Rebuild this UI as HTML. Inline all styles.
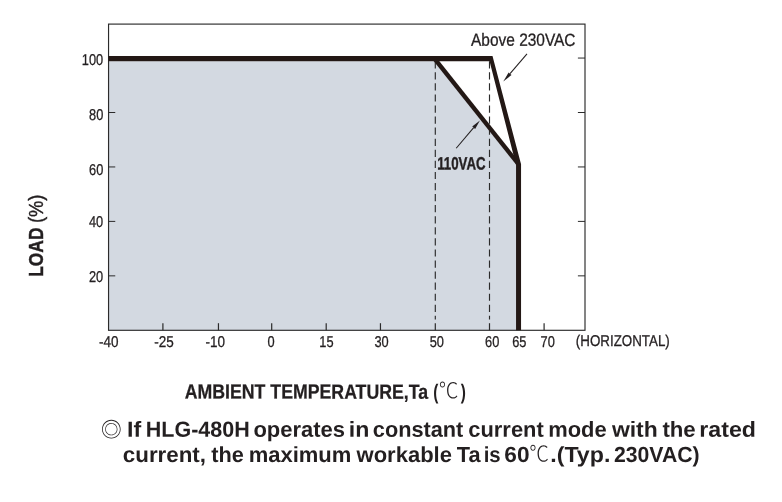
<!DOCTYPE html>
<html lang="en"><head><meta charset="utf-8"><title>Derating curve</title>
<style>html,body{margin:0;padding:0;background:#fff;}body{width:782px;height:502px;overflow:hidden;}svg{display:block;}text{font-family:"Liberation Sans","Noto Sans CJK SC",sans-serif;fill:#231f20;}.b{font-weight:bold;}.c{font-family:"Liberation Sans","Noto Sans CJK SC",sans-serif;font-weight:300;}</style>
</head><body>
<svg width="782" height="502" viewBox="0 0 782 502" role="img" aria-label="Output load versus ambient temperature derating curve">
<rect x="0" y="0" width="782" height="502" fill="#fff"/>
<polygon points="108.55,330.30 108.55,61.35 435.30,61.35 518.55,164.60 518.55,330.30" fill="#d3d9e1"/>
<rect x="108.55" y="24.10" width="476.45" height="306.20" fill="none" stroke="#2b2b2b" stroke-width="1.15"/>
<line x1="108.55" y1="275.85" x2="115.25" y2="275.85" stroke="#2b2b2b" stroke-width="1"/>
<line x1="108.55" y1="221.40" x2="115.25" y2="221.40" stroke="#2b2b2b" stroke-width="1"/>
<line x1="108.55" y1="166.95" x2="115.25" y2="166.95" stroke="#2b2b2b" stroke-width="1"/>
<line x1="108.55" y1="112.50" x2="115.25" y2="112.50" stroke="#2b2b2b" stroke-width="1"/>
<line x1="577.90" y1="275.85" x2="585.00" y2="275.85" stroke="#2b2b2b" stroke-width="1"/>
<line x1="577.90" y1="221.40" x2="585.00" y2="221.40" stroke="#2b2b2b" stroke-width="1"/>
<line x1="577.90" y1="166.95" x2="585.00" y2="166.95" stroke="#2b2b2b" stroke-width="1"/>
<line x1="577.90" y1="112.50" x2="585.00" y2="112.50" stroke="#2b2b2b" stroke-width="1"/>
<line x1="577.90" y1="58.05" x2="585.00" y2="58.05" stroke="#2b2b2b" stroke-width="1"/>
<line x1="162.90" y1="323.20" x2="162.90" y2="330.30" stroke="#2b2b2b" stroke-width="1.2"/>
<line x1="218.45" y1="323.20" x2="218.45" y2="330.30" stroke="#2b2b2b" stroke-width="1.2"/>
<line x1="271.70" y1="323.20" x2="271.70" y2="330.30" stroke="#2b2b2b" stroke-width="1.2"/>
<line x1="326.20" y1="323.20" x2="326.20" y2="330.30" stroke="#2b2b2b" stroke-width="1.2"/>
<line x1="380.45" y1="323.20" x2="380.45" y2="330.30" stroke="#2b2b2b" stroke-width="1.2"/>
<line x1="544.10" y1="323.20" x2="544.10" y2="330.30" stroke="#2b2b2b" stroke-width="1.2"/>
<line x1="435.30" y1="61.20" x2="435.30" y2="319.40" stroke="#2b2b2b" stroke-width="1.15" stroke-dasharray="7.2 3.87"/>
<line x1="435.30" y1="323.20" x2="435.30" y2="330.30" stroke="#2b2b2b" stroke-width="1.2"/>
<line x1="489.50" y1="61.20" x2="489.50" y2="319.40" stroke="#2b2b2b" stroke-width="1.15" stroke-dasharray="7.2 3.87"/>
<line x1="489.50" y1="323.20" x2="489.50" y2="330.30" stroke="#2b2b2b" stroke-width="1.2"/>
<line x1="434.50" y1="58.60" x2="518.75" y2="164.50" stroke="#231815" stroke-width="4.4"/>
<polygon points="108.55,56.00 492.50,56.00 521.05,164.30 521.05,330.30 516.05,330.30 516.05,165.00 489.58,61.35 108.55,61.35" fill="#231815"/>
<line x1="527.00" y1="53.80" x2="510.05" y2="73.69" stroke="#231f20" stroke-width="1.05"/>
<polygon points="503.30,81.60 508.60,72.45 511.49,74.92" fill="#231f20"/>
<line x1="456.20" y1="148.25" x2="473.68" y2="127.71" stroke="#231f20" stroke-width="1.05"/>
<polygon points="479.90,120.40 475.13,128.94 472.23,126.48" fill="#231f20"/>
<text transform="translate(81.83,64.95) rotate(0.05) scale(0.8150,1)" font-size="15.70" stroke="#231f20" stroke-width="0.30">100</text>
<text transform="translate(89.03,119.95) rotate(0.05) scale(0.8150,1)" font-size="15.70" stroke="#231f20" stroke-width="0.30">80</text>
<text transform="translate(89.06,174.95) rotate(0.05) scale(0.8150,1)" font-size="15.70" stroke="#231f20" stroke-width="0.30">60</text>
<text transform="translate(88.93,226.95) rotate(0.05) scale(0.8150,1)" font-size="15.70" stroke="#231f20" stroke-width="0.30">40</text>
<text transform="translate(88.99,281.95) rotate(0.05) scale(0.8150,1)" font-size="15.70" stroke="#231f20" stroke-width="0.30">20</text>
<text transform="translate(98.91,346.95) rotate(0.05) scale(0.8600,1)" font-size="15.70" stroke="#231f20" stroke-width="0.30">-40</text>
<text transform="translate(154.28,346.95) rotate(0.05) scale(0.8600,1)" font-size="15.70" stroke="#231f20" stroke-width="0.30">-25</text>
<text transform="translate(205.56,346.95) rotate(0.05) scale(0.8600,1)" font-size="15.70" stroke="#231f20" stroke-width="0.30">-10</text>
<text transform="translate(267.39,346.95) rotate(0.05) scale(0.8150,1)" font-size="15.70" stroke="#231f20" stroke-width="0.30">0</text>
<text transform="translate(319.31,346.95) rotate(0.05) scale(0.8150,1)" font-size="15.70" stroke="#231f20" stroke-width="0.30">15</text>
<text transform="translate(374.45,346.95) rotate(0.05) scale(0.8150,1)" font-size="15.70" stroke="#231f20" stroke-width="0.30">30</text>
<text transform="translate(429.73,346.95) rotate(0.05) scale(0.8150,1)" font-size="15.70" stroke="#231f20" stroke-width="0.30">50</text>
<text transform="translate(485.06,346.95) rotate(0.05) scale(0.8150,1)" font-size="15.70" stroke="#231f20" stroke-width="0.30">60</text>
<text transform="translate(512.18,346.95) rotate(0.05) scale(0.8150,1)" font-size="15.70" stroke="#231f20" stroke-width="0.30">65</text>
<text transform="translate(540.56,346.95) rotate(0.05) scale(0.8150,1)" font-size="15.70" stroke="#231f20" stroke-width="0.30">70</text>
<text transform="translate(575.85,346.00) rotate(0.05) scale(0.8508,1)" font-size="15.70" stroke="#231f20" stroke-width="0.30">(HORIZONTAL)</text>
<text transform="translate(471.05,45.80) rotate(0.05) scale(0.8785,1)" font-size="17.60" stroke="#231f20" stroke-width="0.30">Above 230VAC</text>
<text transform="translate(437.21,169.39) rotate(0.05) scale(0.7407,1)" font-size="17.90" class="b" stroke="#231f20" stroke-width="0.40">110VAC</text>
<text transform="translate(42.79,276.86) rotate(-90) scale(0.8385,1)" font-size="20.80" class="b" stroke="#231f20" stroke-width="0.45">LOAD</text>
<text transform="translate(43.00,223.06) rotate(-90) scale(0.9036,1)" font-size="20.20" stroke="#231f20" stroke-width="0.45">(%)</text>
<text transform="translate(184.73,398.50) rotate(0.05) scale(0.8678,1)" font-size="20.43" class="b" stroke="#231f20" stroke-width="0.25">AMBIENT TEMPERATURE,Ta</text>
<text transform="translate(433.23,398.94) rotate(0.05) scale(0.7276,1)" font-size="21.11" class="b">(</text>
<text transform="translate(438.68,398.30) rotate(0.05) scale(0.8901,1)" font-size="22.17" class="c">℃</text>
<text transform="translate(460.85,398.94) rotate(0.05) scale(0.7276,1)" font-size="21.11" class="b">)</text>
<text transform="translate(100.97,437.05) rotate(0.05) scale(1.0000,1)" font-size="20.67">◎</text>
<text transform="translate(126.96,436.70) rotate(0.05) scale(1.0600,1)" font-size="21.88" class="b">If</text>
<text transform="translate(145.77,436.70) rotate(0.05) scale(0.9829,1)" font-size="21.88" class="b">HLG-480H</text>
<text transform="translate(253.42,436.70) rotate(0.05) scale(1.0041,1)" font-size="21.88" class="b">operates</text>
<text transform="translate(348.78,436.70) rotate(0.05) scale(1.0568,1)" font-size="21.88" class="b">in</text>
<text transform="translate(372.83,436.70) rotate(0.05) scale(0.9932,1)" font-size="21.88" class="b">constant</text>
<text transform="translate(468.32,436.70) rotate(0.05) scale(1.0005,1)" font-size="21.88" class="b">current</text>
<text transform="translate(548.24,436.70) rotate(0.05) scale(1.0023,1)" font-size="21.88" class="b">mode</text>
<text transform="translate(611.88,436.70) rotate(0.05) scale(1.0482,1)" font-size="21.88" class="b">with</text>
<text transform="translate(662.40,436.70) rotate(0.05) scale(1.0156,1)" font-size="21.88" class="b">the</text>
<text transform="translate(699.32,436.70) rotate(0.05) scale(1.0600,1)" font-size="21.88" class="b">rated</text>
<text transform="translate(122.81,461.90) rotate(0.05) scale(1.0221,1)" font-size="21.88" class="b">current,</text>
<text transform="translate(211.21,461.90) rotate(0.05) scale(0.9936,1)" font-size="21.88" class="b">the</text>
<text transform="translate(248.63,461.90) rotate(0.05) scale(1.0065,1)" font-size="21.88" class="b">maximum</text>
<text transform="translate(356.57,461.90) rotate(0.05) scale(1.0056,1)" font-size="21.88" class="b">workable</text>
<text transform="translate(456.78,461.90) rotate(0.05) scale(0.9936,1)" font-size="21.88" class="b">Ta</text>
<text transform="translate(483.71,461.90) rotate(0.05) scale(0.9300,1)" font-size="21.88" class="b">is</text>
<text transform="translate(504.37,461.90) rotate(0.05) scale(1.0348,1)" font-size="21.88" class="b">60</text>
<text transform="translate(529.18,461.60) rotate(0.05) scale(0.8901,1)" font-size="22.17" class="c">℃</text>
<text transform="translate(550.26,461.90) rotate(0.05) scale(1.0600,1)" font-size="21.88" class="b">.(Typ.</text>
<text transform="translate(613.99,461.90) rotate(0.05) scale(0.9690,1)" font-size="21.88" class="b">230VAC)</text>
</svg>
</body></html>
